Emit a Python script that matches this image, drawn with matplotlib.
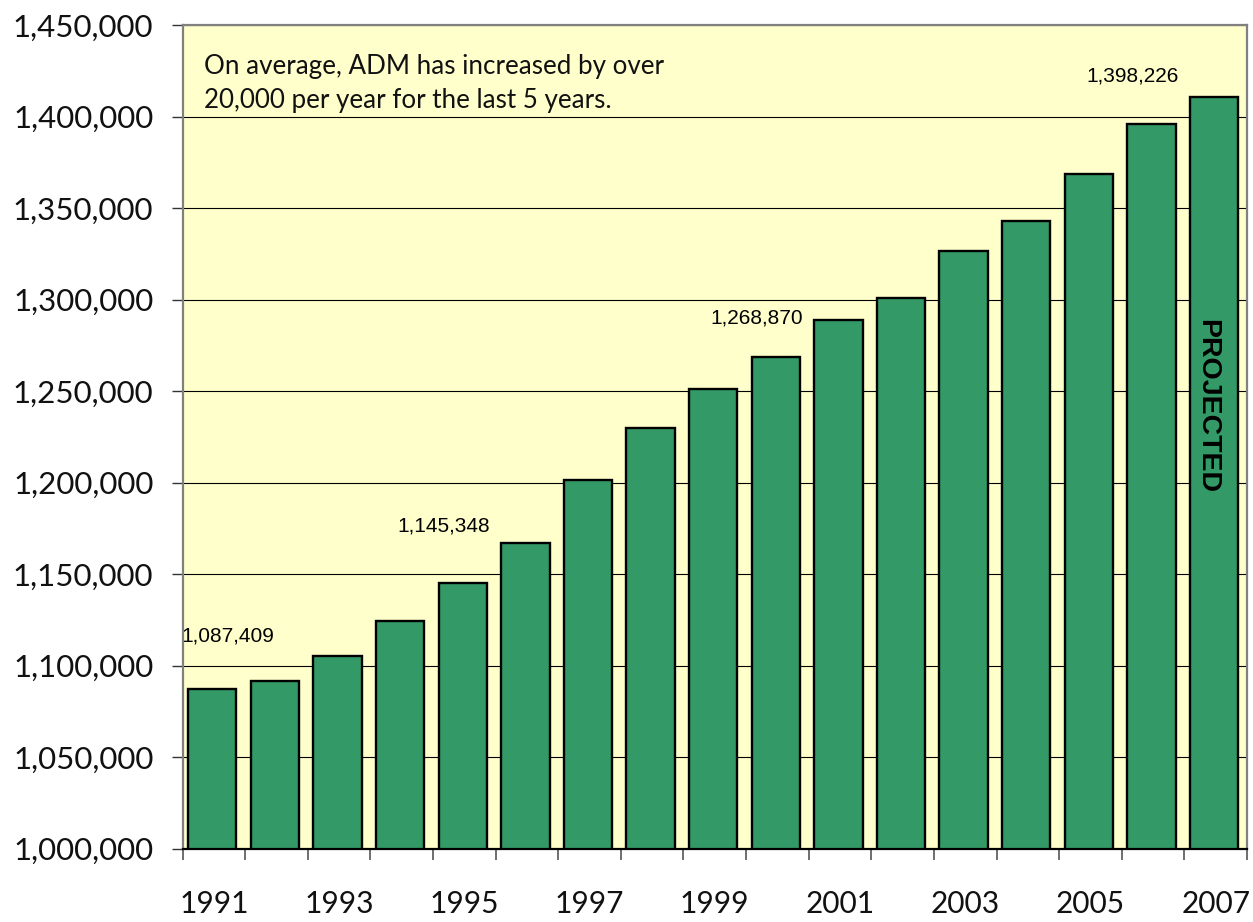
import numpy as np
import matplotlib
matplotlib.use("Agg")
import matplotlib.pyplot as plt
from matplotlib.ticker import FuncFormatter

# ADM by year (labelled bars use their printed values)
years = list(range(1991, 2008))
adm = [1087409, 1091600, 1105300, 1124600, 1145348, 1166800, 1201400, 1230000,
       1251100, 1268870, 1288800, 1300700, 1326500, 1342900, 1368600, 1395700,
       1410600]

# which bars carry a value label, and the text shown
label_years = [1991, 1995, 2000, 2006]
label_texts = ["1,087,409", "1,145,348", "1,268,870", "1,398,226"]
# label offsets from bar top (points)
label_offsets = [(10, 38), (-15, 41), (-15, 28), (-15, 35)]

note = "On average, ADM has increased by over\n20,000 per year for the last 5 years."

bar_color = "#339966"
bg_color = "#FFFFCC"

plt.rcParams["font.family"] = ["Lato", "DejaVu Sans"]

fig = plt.figure(figsize=(12.53, 9.22), dpi=100)
ax = fig.add_axes([0.1457, 0.0795, 0.8495, 0.8934])
ax.set_facecolor(bg_color)

x = np.arange(len(years))
ax.bar(x - 0.025, adm, width=0.772, color=bar_color, edgecolor="black",
       linewidth=1.7, zorder=3)

ax.set_xlim(-0.5, len(years) - 0.5)
ax.set_ylim(1000000, 1450000)
ax.set_yticks(np.arange(1000000, 1450001, 50000))
ax.yaxis.set_major_formatter(FuncFormatter(lambda v, p: f"{int(v):,}"))
ax.yaxis.grid(True, color="black", linewidth=0.8, zorder=1)
ax.set_axisbelow(True)

# ticks between categories, year labels on every other bar
ax.set_xticks(np.arange(-0.5, len(years)), labels=[])
ax.set_xticks(x[::2], labels=[str(y) for y in years[::2]], minor=True)
ax.tick_params(axis="x", which="major", direction="out", length=8,
               width=1.2, color="#555555")
ax.tick_params(axis="x", which="minor", length=0, pad=30, labelsize=21.5,
               labelcolor="#111111")
ax.tick_params(axis="y", direction="out", length=8, width=1.0,
               color="#333333", pad=13, labelsize=22.5, labelcolor="#111111")

for side in ["left", "top", "right"]:
    ax.spines[side].set_color("#808080")
    ax.spines[side].set_linewidth(1.6)
ax.spines["bottom"].set_color("black")
ax.spines["bottom"].set_linewidth(1.6)
for s in ax.spines.values():
    s.set_zorder(4)

for yr, txt, (dx, dy) in zip(label_years, label_texts, label_offsets):
    i = years.index(yr)
    ax.annotate(txt, (i, adm[i]), xytext=(dx, dy), textcoords="offset points",
                ha="center", va="center", fontsize=15,
                family=["Liberation Sans", "DejaVu Sans"], zorder=2)

ax.text(0.02, 0.929, note, transform=ax.transAxes, ha="left", va="center",
        fontsize=18.7, linespacing=1.42, color="#111111")

ax.text(len(years) - 1.13, 1242000, "PROJECTED", rotation=-90,
        ha="center", va="center", fontsize=20.5, fontweight="bold", zorder=5,
        family=["Liberation Sans Narrow", "Liberation Sans", "DejaVu Sans"])

fig.savefig("out.png", dpi=100)
